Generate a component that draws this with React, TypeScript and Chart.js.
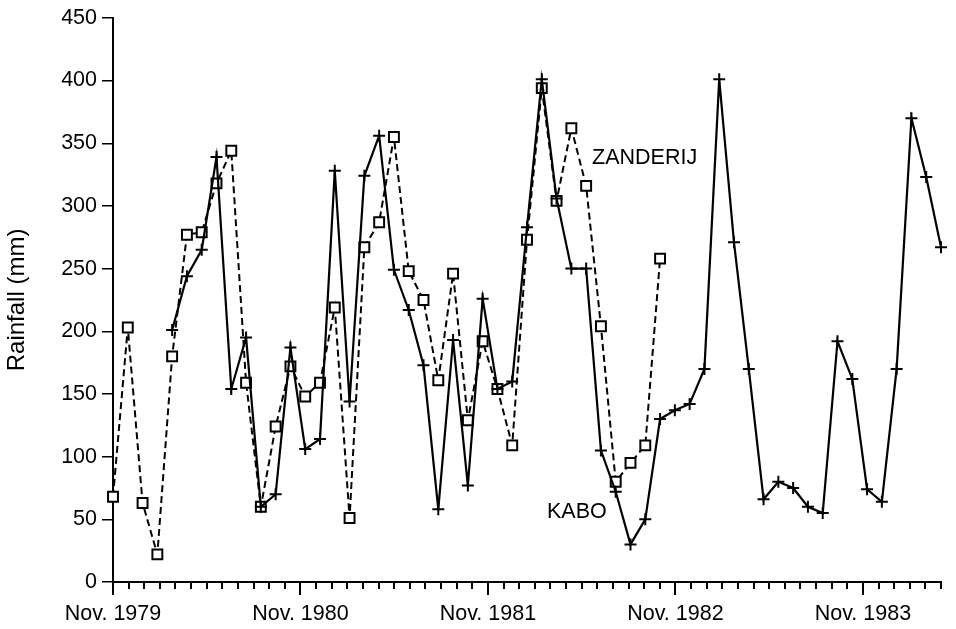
import React, { useEffect, useRef } from 'react';
import { Chart, registerables } from 'chart.js';

Chart.register(...registerables);

// Monthly rainfall observations (mm), one entry per observation step.
const ZANDERIJ: number[] = [
  68, 203, 63, 22, 180, 277, 279, 318, 344, 159,
  60, 124, 172, 148, 159, 219, 51, 267, 287, 355,
  248, 225, 161, 246, 129, 192, 154, 109, 273, 394,
  304, 362, 316, 204, 80, 95, 109, 258,
];

const KABO: (number | null)[] = [
  null, null, null, null, 201, 244, 265, 339, 154, 195,
  60, 70, 187, 106, 114, 328, 144, 324, 356, 249,
  217, 173, 58, 193, 77, 226, 154, 160, 283, 401,
  306, 250, 250, 105, 72, 30, 50, 130, 137, 142,
  170, 401, 271, 170, 66, 80, 75, 60, 55, 192,
  162, 74, 64, 170, 370, 323, 267,
];

const OBS_MAX = 56; // last observation index
const MONTH_TICKS = 54; // Nov. 1979 .. Apr. 1984
const YEAR_LABELS = ['Nov. 1979', 'Nov. 1980', 'Nov. 1981', 'Nov. 1982', 'Nov. 1983'];
const Y_MIN = 0;
const Y_MAX = 450;
const Y_STEP = 50;

// Series name labels, anchored in data coordinates.
const SERIES_LABELS = [
  { text: 'ZANDERIJ', x: 32.4, y: 338 },
  { text: 'KABO', x: 29.35, y: 55.5 },
];

const FONT_FAMILY = '"Liberation Sans", Arial, Helvetica, sans-serif';
const FONT_SIZE = 21.5;
const TITLE_SIZE = 24;

const toPoints = (arr: (number | null)[]) =>
  arr
    .map((v, i) => (v === null ? null : { x: i, y: v }))
    .filter((p): p is { x: number; y: number } => p !== null);

const minorTicksPlugin = {
  id: 'minorTicks',
  afterDraw(chart: any) {
    const xs = chart.scales.x;
    const ctx = chart.ctx;
    ctx.save();
    ctx.strokeStyle = '#000';
    ctx.lineWidth = 2;
    xs.ticks.forEach((t: any, idx: number) => {
      if (idx % 12 === 0) return;
      const px = Math.round(xs.getPixelForValue(t.value));
      ctx.beginPath();
      ctx.moveTo(px, xs.top);
      ctx.lineTo(px, xs.top + 7);
      ctx.stroke();
    });
    ctx.restore();
  },
};

const seriesLabelPlugin = {
  id: 'seriesLabels',
  afterDraw(chart: any) {
    const { ctx, scales } = chart;
    ctx.save();
    ctx.fillStyle = '#000';
    ctx.font = `${FONT_SIZE}px ${FONT_FAMILY}`;
    ctx.textAlign = 'left';
    ctx.textBaseline = 'middle';
    SERIES_LABELS.forEach((l) => {
      ctx.fillText(l.text, scales.x.getPixelForValue(l.x), scales.y.getPixelForValue(l.y));
    });
    ctx.restore();
  },
};

export default function App() {
  const canvasRef = useRef<HTMLCanvasElement | null>(null);

  useEffect(() => {
    if (!canvasRef.current) return;
    const chart = new Chart(canvasRef.current, {
      type: 'line',
      data: {
        datasets: [
          {
            label: 'KABO',
            data: toPoints(KABO),
            borderColor: '#000',
            borderWidth: 2.2,
            pointStyle: 'cross',
            pointRadius: 6,
            pointBorderWidth: 2,
            pointBorderColor: '#000',
            pointBackgroundColor: '#000',
            tension: 0,
            fill: false,
            clip: false,
            order: 0,
          },
          {
            label: 'ZANDERIJ',
            data: toPoints(ZANDERIJ),
            borderColor: '#000',
            borderWidth: 2,
            borderDash: [7, 4],
            pointStyle: 'rect',
            pointRadius: 7,
            pointBorderWidth: 2,
            pointBorderColor: '#000',
            pointBackgroundColor: '#fff',
            tension: 0,
            fill: false,
            clip: false,
            order: 1,
          },
        ],
      },
      options: {
        responsive: false,
        animation: false,
        events: [],
        layout: { padding: { left: 0, top: 15, right: 15, bottom: 0 } },
        plugins: {
          legend: { display: false },
          tooltip: { enabled: false },
          title: { display: false },
        },
        scales: {
          x: {
            type: 'linear',
            min: 0,
            max: OBS_MAX,
            afterBuildTicks: (scale: any) => {
              scale.ticks = Array.from({ length: MONTH_TICKS }, (_, m) => ({
                value: (m * OBS_MAX) / (MONTH_TICKS - 1),
              }));
            },
            afterFit: (scale: any) => {
              scale.height = 47;
            },
            ticks: {
              autoSkip: false,
              maxRotation: 0,
              minRotation: 0,
              padding: 6,
              color: '#000',
              font: { family: FONT_FAMILY, size: FONT_SIZE },
              callback: (_v: any, index: number) =>
                index % 12 === 0 ? YEAR_LABELS[index / 12] : '',
            },
            grid: {
              drawOnChartArea: false,
              drawTicks: true,
              tickLength: 13,
              lineWidth: 2,
              color: (ctx: any) => (ctx.index % 12 === 0 ? '#000' : 'rgba(0,0,0,0)'),
            },
            border: { display: true, color: '#000', width: 2 },
          },
          y: {
            type: 'linear',
            min: Y_MIN,
            max: Y_MAX,
            afterFit: (scale: any) => {
              scale.width = 113;
            },
            ticks: {
              stepSize: Y_STEP,
              padding: 5,
              color: '#000',
              font: { family: FONT_FAMILY, size: FONT_SIZE },
            },
            grid: {
              drawOnChartArea: false,
              drawTicks: true,
              tickLength: 11,
              lineWidth: 1.5,
              color: '#000',
            },
            border: { display: true, color: '#000', width: 2 },
            title: {
              display: true,
              text: 'Rainfall (mm)',
              color: '#000',
              padding: { top: 3, bottom: 0 },
              font: { family: FONT_FAMILY, size: TITLE_SIZE },
            },
          },
        },
      },
      plugins: [minorTicksPlugin, seriesLabelPlugin],
    });
    return () => chart.destroy();
  }, []);

  return (
    <div style={{ position: 'absolute', left: 0, top: 0, width: 956, height: 629, background: '#fff' }}>
      <canvas ref={canvasRef} width={956} height={629} style={{ display: 'block' }} />
    </div>
  );
}
